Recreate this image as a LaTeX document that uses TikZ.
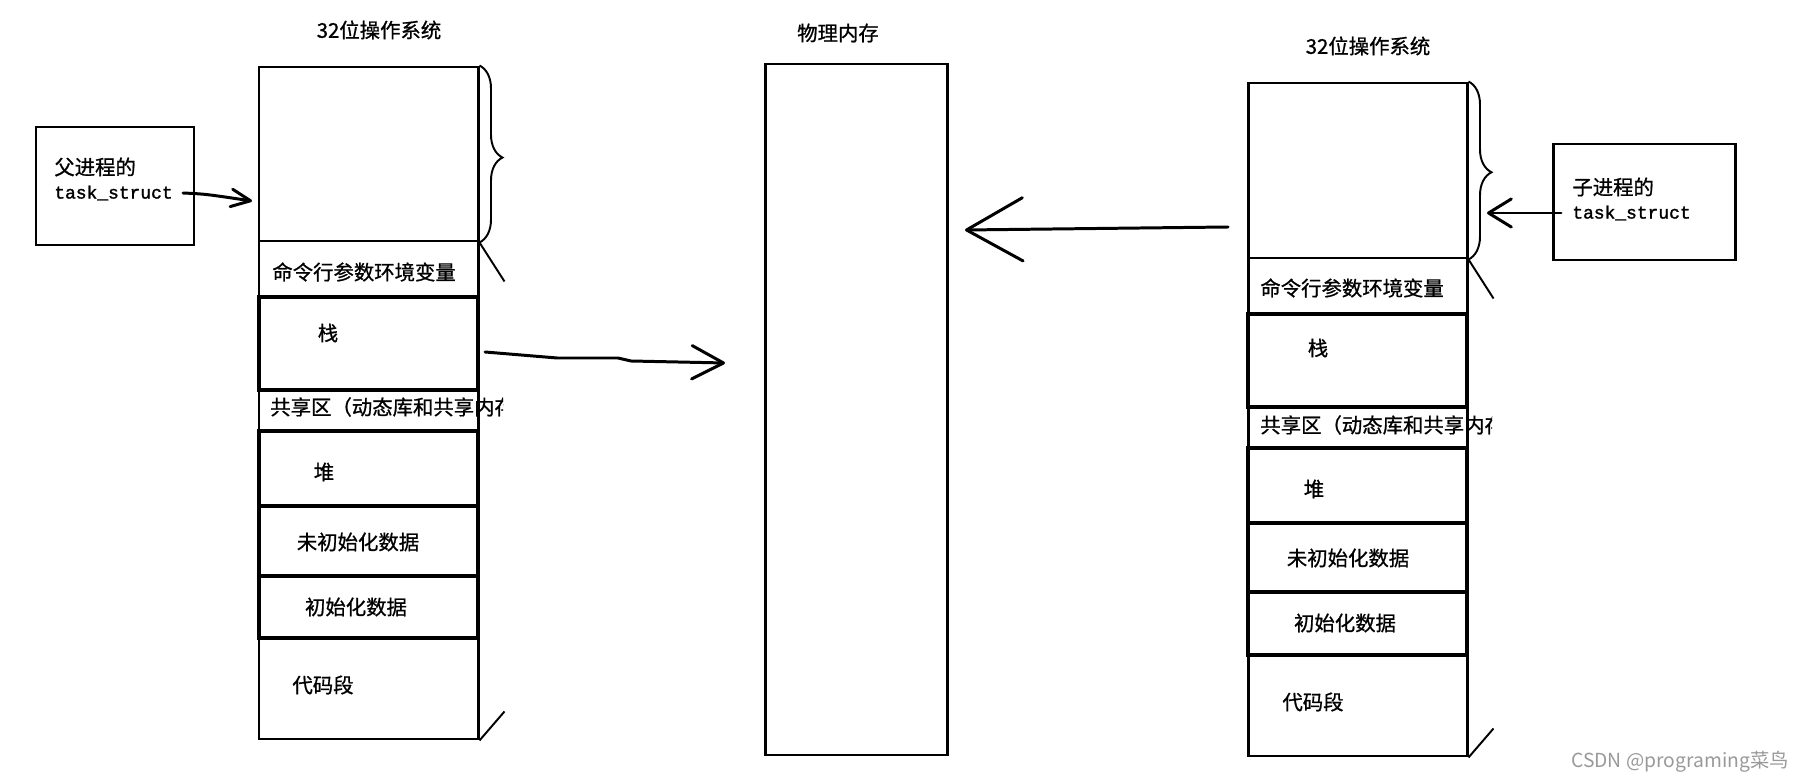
\documentclass[tikz,border=0pt]{standalone}
\usepackage{fontspec}
\setmainfont{Liberation Serif}
\newfontfamily\cjk{Noto Sans CJK SC}[UprightFeatures={FakeBold=0.9}]
\newfontfamily\wmfont{Noto Sans CJK SC}
\newfontfamily\mono{Liberation Mono}[UprightFeatures={FakeBold=1.6}]
\usetikzlibrary{fit, arrows.meta, decorations.pathreplacing}

\begin{document}
\begin{tikzpicture}[x=0.02cm, y=-0.02cm,
  seg/.style={draw, line width=1.7pt, inner sep=0pt},
  segb/.style={draw, line width=2.2pt, inner sep=0pt},
  lab/.style={font=\cjk\fontsize{11.6}{14.7}\selectfont, inner sep=0pt},
  code/.style={font=\mono\fontsize{10.2}{12}\selectfont, inner sep=0pt},
  hand/.style={line width=1.7pt, line cap=round, line join=round},
  thinl/.style={line width=1.1pt}]
  \useasboundingbox (0,0) rectangle (1801,783);

  \node[lab] (ttl1) at (379,30) {32位操作系统};
  \node[lab] (ttl2) at (838,33) {物理内存};
  \node[lab] (ttl3) at (1368,46) {32位操作系统};

  \foreach \nm/\ya/\yb/\st in {pblank/67/241/seg, pargs/241/297/seg, pstack/297/390/segb,
      pshare/390/431/seg, pheap/431/506/segb, pbss/506/576/segb, pdata/576/638/segb, ptext/638/739/seg}
    \node[\st, fit={(259,\ya) (478,\yb)}] (\nm) {};
  \foreach \nm/\ya/\yb/\st in {cblank/83/258/seg, cargs/258/314/seg, cstack/314/407/segb,
      cshare/407/448/seg, cheap/448/523/segb, cbss/523/592/segb, cdata/592/655/segb, ctext/655/756/seg}
    \node[\st, fit={(1248,\ya) (1467,\yb)}] (\nm) {};
  \node[seg, fit={(765,64) (947,755)}] (mem) {};

  \node[lab, anchor=west] (pargsl) at (272,272) {命令行参数环境变量};
  \node[lab] (pstackl) at (328,333) {栈};
  \begin{scope}
    \clip (250,385) rectangle (503,436);
    \node[lab, anchor=west] (psharel) at (270,407) {共享区（动态库和共享内存）};
  \end{scope}
  \node[lab] (pheapl) at (324,472) {堆};
  \node[lab] (pbssl) at (358,542) {未初始化数据};
  \node[lab] (pdatal) at (356,607) {初始化数据};
  \node[lab] (ptextl) at (323,685) {代码段};

  \node[lab, anchor=west] (cargsl) at (1260,288) {命令行参数环境变量};
  \node[lab] (cstackl) at (1318,348) {栈};
  \begin{scope}
    \clip (1240,402) rectangle (1492,453);
    \node[lab, anchor=west] (csharel) at (1260,425) {共享区（动态库和共享内存）};
  \end{scope}
  \node[lab] (cheapl) at (1314,489) {堆};
  \node[lab] (cbssl) at (1348,558) {未初始化数据};
  \node[lab] (cdatal) at (1345,623) {初始化数据};
  \node[lab] (ctextl) at (1313,702) {代码段};

  \node[seg, fit={(36,127) (194,245)}] (pbox) {};
  \node[lab, anchor=west] (pname) at (54,167) {父进程的};
  \node[code, anchor=west] (ptask) at (54,193) {task\_struct};
  \node[seg, fit={(1553,144) (1735,260)}] (cbox) {};
  \node[lab, anchor=west] (cname) at (1572,187) {子进程的};
  \node[code, anchor=west] (ctask) at (1572,213) {task\_struct};

  \draw[thinl, decorate, decoration={brace, amplitude=0.46cm, aspect=0.52}] (pblank.north east) -- (pblank.south east);
  \draw[thinl, decorate, decoration={brace, amplitude=0.46cm, aspect=0.51}] (cblank.north east) -- (cblank.south east);
  \draw[thinl] (pblank.south east) -- ++(25,39);
  \draw[thinl] (ptext.south east) -- ++(25,-29);
  \draw[thinl] (cblank.south east) -- ++(25,39);
  \draw[thinl] (ctext.south east) -- ++(25,-29);

  \coordinate (pin) at (252,201);
  \coordinate (sout) at (485,352);
  \coordinate (min) at (725,363);
  \coordinate (cout) at (1228,227);
  \coordinate (mout) at (965,230);
  \coordinate (cin) at (1561,213);
  \coordinate (cend) at (1487,213);
  \draw[hand, -{Straight Barb[length=11pt, width=10pt, round]}] ([xshift=0.2cm]ptask.east) .. controls (205,194) .. (pin);
  \draw[hand, -{Straight Barb[length=18pt, width=19pt, round]}] (sout) -- (557,358) -- (618,358) -- (631,361) -- (min);
  \draw[hand, -{Straight Barb[length=32pt, width=36pt, round]}] (cout) -- (mout);
  \draw[hand, -{Straight Barb[length=13pt, width=16pt, round]}] (cin) -- (cend);

  \node[font=\wmfont\fontsize{11}{13}\selectfont, text=black!40, inner sep=0pt] (wmark) at (1680,762) {CSDN @programing菜鸟};
\end{tikzpicture}
\end{document}
